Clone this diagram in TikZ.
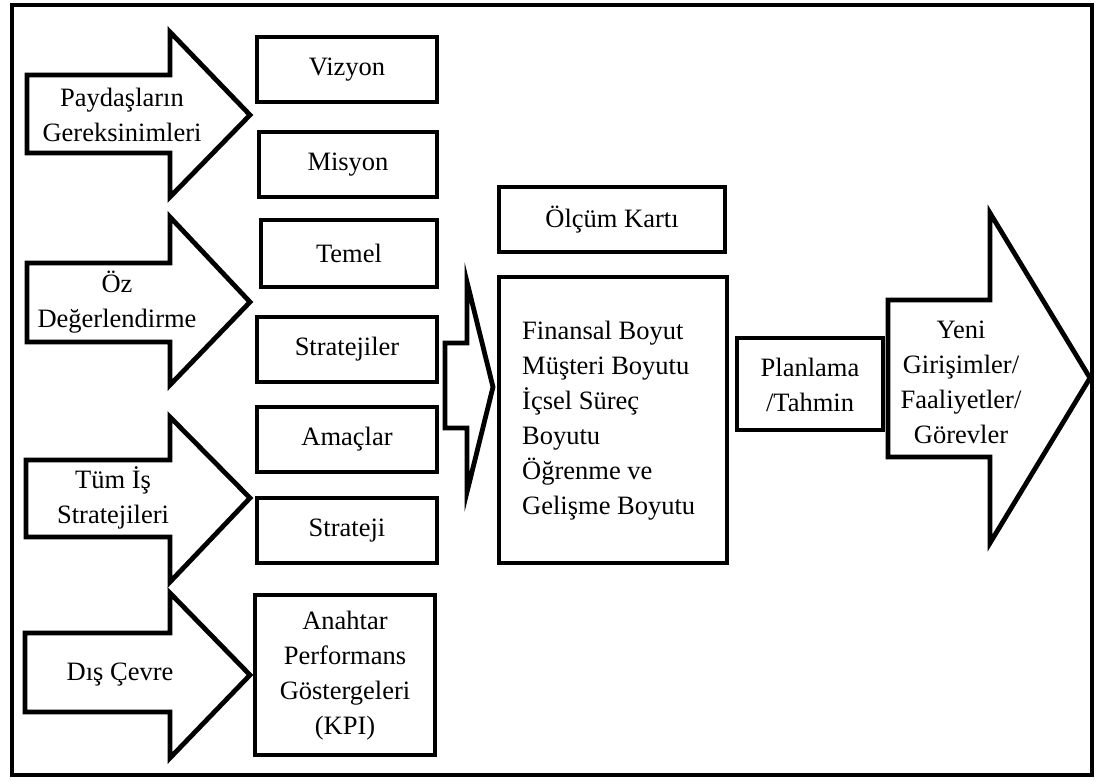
\documentclass[tikz,border=0pt]{standalone}
\usepackage{fontspec}
\setmainfont{Liberation Serif}
\begin{document}
\begin{tikzpicture}[x=1pt,y=-1pt,
  line join=miter,
  frame/.style={draw=black,line width=4pt},
  outline/.style={draw=black,line width=4.8pt,fill=white},
  txt/.style={font=\fontsize{26.5}{35}\selectfont,align=center,inner sep=0pt}]
\useasboundingbox (0,0) rectangle (1096,781);
\fill[white] (0,0) rectangle (1096,781);
% outer frame
\draw[frame] (12,5) rectangle (1092,775);

% input block arrows on the left
\draw[outline] (27,75) -- (170,75) -- (170,32) -- (250,115) -- (170,197) -- (170,153) -- (27,153) -- cycle;
\draw[outline] (27,263) -- (170,263) -- (170,217) -- (250,302) -- (170,385) -- (170,342) -- (27,342) -- cycle;
\draw[outline] (26,460) -- (170,460) -- (170,417) -- (250,498) -- (170,582) -- (170,537) -- (26,537) -- cycle;
\draw[outline] (25,633) -- (170,633) -- (170,593) -- (250,675) -- (170,758) -- (170,712) -- (25,712) -- cycle;
\node[txt] (paydas) at (122,115) {Paydaşların\\Gereksinimleri};
\node[txt] (oz) at (117,302) {Öz\\Değerlendirme};
\node[txt] (tumis) at (113,498) {Tüm İş\\Stratejileri};
\node[txt] (dis) at (120,675) {Dış Çevre};

% column of boxes
\draw[outline] (257,37) rectangle (437,102);
\node[txt] (vizyon) at (347,69.5) {Vizyon};
\draw[outline] (259,132) rectangle (437,197);
\node[txt] (misyon) at (348,164.5) {Misyon};
\draw[outline] (261,220) rectangle (437,287);
\node[txt] (temel) at (349,253.5) {Temel};
\draw[outline] (257,317) rectangle (437,382);
\node[txt] (strat) at (347,349.5) {Stratejiler};
\draw[outline] (257,407) rectangle (437,472);
\node[txt] (amac) at (347,439.5) {Amaçlar};
\draw[outline] (257,498) rectangle (437,563);
\node[txt] (strateji) at (347,530.5) {Strateji};
\draw[outline] (255,595) rectangle (435,755);
\node[txt] (kpi) at (345,676) {Anahtar\\Performans\\Göstergeleri\\(KPI)};

% hollow arrow into the scorecard
\draw[outline] (445,343) -- (467,343) -- (467,282) -- (493,387) -- (467,492) -- (467,428) -- (445,428) -- cycle;

% scorecard
\draw[outline] (499,187) rectangle (725,252);
\node[txt] (olcum) at (612,219.5) {Ölçüm Kartı};
\draw[outline] (499,277) rectangle (727,563);
\node[txt,align=left,anchor=west] (boyut) at (522,421) {Finansal Boyut\\Müşteri Boyutu\\İçsel Süreç\\Boyutu\\Öğrenme ve\\Gelişme Boyutu};

% planning
\draw[outline] (737,338) rectangle (883,430);
\node[txt] (plan) at (810,385) {Planlama\\/Tahmin};

% output arrow
\draw[outline] (888,300) -- (990,300) -- (990,213) -- (1090,378) -- (990,543) -- (990,457) -- (888,457) -- cycle;
\node[txt] (yeni) at (961,382) {Yeni\\Girişimler/\\Faaliyetler/\\Görevler};
\end{tikzpicture}
\end{document}
